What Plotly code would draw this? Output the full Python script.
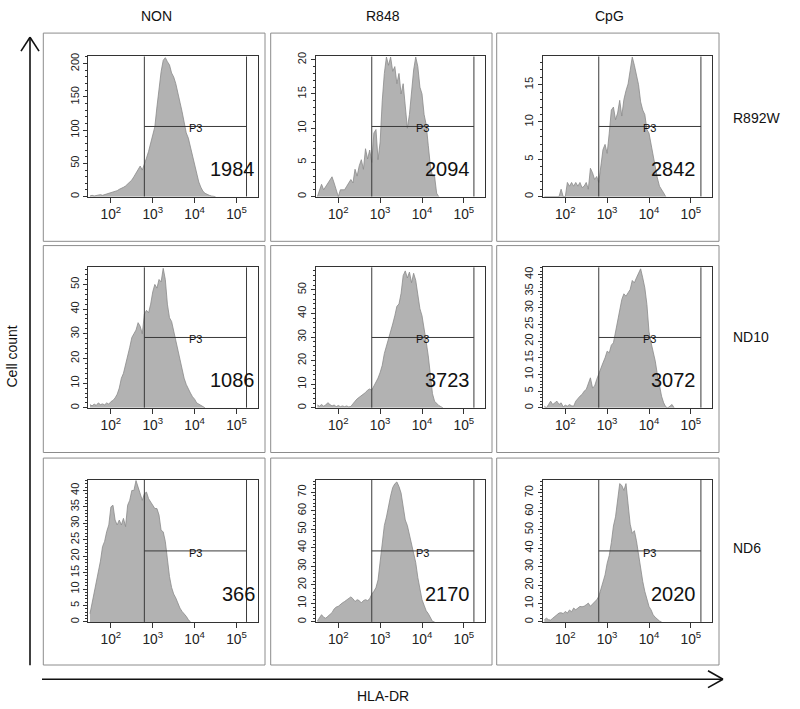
import math
import plotly.graph_objects as go

W, H = 800, 709

# ---------------- data ----------------
treatments = ["NON", "R848", "CpG"]
donors = ["R892W", "ND10", "ND6"]
x_title = "HLA-DR"
y_title = "Cell count"
gate_name = "P3"

# histogram bins (log10 of HLA-DR intensity)
bin_start_log10 = 1.50
bin_step_log10 = 0.05

r892w_non = [1, 2, 1, 2, 2, 3, 2, 3, 4, 4,
             6, 7, 8, 9, 11, 12, 14, 16, 19, 22,
             25, 30, 35, 42, 46, 40, 48, 58, 68, 80,
             92, 105, 135, 165, 188, 205, 209, 203, 198, 186,
             180, 170, 158, 142, 128, 112, 96, 88, 75, 58,
             45, 34, 22, 14, 8, 5, 3, 2, 1, 1, 0]
r892w_r848 = [0, 1, 1.8, 1, 1.5, 2, 2.5, 2.9, 2, 1,
              0, 1, 1, 1, 1.5, 2, 2.5, 2, 4, 3,
              4.5, 5.4, 4, 7, 5.5, 6.8, 5, 9.3, 9.8, 5.4,
              8, 14, 18, 20.4, 19.2, 20.4, 18.3, 19, 16.5, 18,
              15, 16.5, 13.5, 10, 12, 15, 18.5, 20.4, 19, 16,
              15, 12, 10.5, 7.5, 4.5, 3, 3, 0.5, 0]
r892w_cpg = [0, 0, 0, 0, 0, 0, 0, 0, 1, 0,
             0, 1.9, 1.4, 1.9, 1.4, 1.9, 1.4, 1.9, 1.2, 1.4,
             1.9, 1, 3.8, 3.2, 2.3, 2.7, 1.9, 4.5, 6.3, 7,
             5.8, 8.5, 11.6, 12, 10.3, 11.2, 12.9, 10.8, 13, 14.2,
             15.1, 16.9, 18.7, 17.6, 16.5, 15, 12.7, 11.6, 11, 9,
             8.5, 7, 5.5, 3.5, 2.5, 1.4, 1, 0.5, 0]
nd10_non = [1.3, 0.8, 1.5, 1, 2, 1.3, 1.6, 1.2, 2, 1.5,
            2.5, 3, 4, 5.5, 8, 12, 14, 17, 21, 24.5,
            28.5, 30, 31.5, 34.5, 33, 30, 38, 39.5, 38.5, 42,
            47, 50, 48.5, 52, 51, 56.5, 52, 42, 36.5, 35,
            31, 27.5, 24, 20, 15.5, 12, 9.5, 7.5, 6, 4.5,
            3.5, 2, 1.5, 1, 0.7, 0]
nd10_r848 = [1.2, 0.7, 1.4, 0.7, 1.2, 2.2, 1.4, 0.8, 1.2, 0.5,
             1, 0.5, 0.8, 0.5, 0.8, 0.4, 0.6, 1.5, 2.8, 3.8,
             4.5, 5, 5.8, 6.5, 7.5, 8, 7.5, 9, 10.5, 12.6,
             15, 18, 23, 26, 28.5, 32, 35.5, 39, 43, 44,
             48.5, 56, 58, 55, 57.5, 53, 57, 54, 47, 42,
             39, 34, 28, 22, 14, 6, 2.8, 1.8, 1, 0.5, 0]
nd10_cpg = [0.5, 0, 1, 2, 1, 1.5, 2, 1, 1.5, 0.3,
            0.8, 0.5, 1, 0.6, 0.5, 2, 2.8, 3.5, 4, 5,
            5.5, 7, 9, 6, 6.5, 8.5, 10.4, 12, 13.5, 15,
            17, 16.5, 18.8, 19.5, 22.8, 26, 29, 32.5, 34.2, 33.5,
            34.5, 35.5, 38.2, 37.5, 39, 40.5, 41.7, 39, 36, 31,
            22.8, 19.5, 17, 14, 10, 6.5, 3.5, 1.5, 0.3, 0, 0.5, 1, 0]
nd6_non = [2.5, 5.5, 8.8, 12, 14.5, 18.5, 22.9, 24.5, 27.5, 29.5,
           35, 35.5, 31, 29.5, 31, 29.5, 31.5, 29, 35.5, 37,
           40, 40, 43, 41, 39, 37, 39, 39.5, 37.5, 36.5,
           35.5, 34.5, 34.5, 32.5, 27.9, 27.4, 24.5, 18.5, 13.8, 10.5,
           8.5, 7.3, 5.7, 4.2, 3.2, 2.5, 1.7, 0.7, 0]
nd6_r848 = [0.5, 2, 3.9, 2.5, 2, 3, 4, 5, 7, 8,
            8.4, 9.5, 10.3, 11, 11.8, 13, 13.5, 12.5, 11, 12,
            11.5, 10.2, 11.5, 12, 11.5, 12.5, 15, 16.5, 18.5, 22.7,
            33.5, 42, 52, 56.6, 63, 68, 72.5, 74.5, 75.5, 73,
            69.5, 62, 55, 52, 47, 43, 37.5, 32, 24, 18.5,
            12, 9, 6, 4.5, 2, 0.3, 0]
nd6_cpg = [1.2, 2, 1.2, 1, 2, 3, 4, 4.8, 5, 4.5,
           5.7, 4.8, 6.5, 5.5, 7.5, 6.6, 7.5, 8.4, 8.2, 8.5,
           9.3, 10.2, 8.5, 9.8, 10.5, 12, 13.8, 18, 22.8, 25.5,
           31.8, 36, 43, 52, 57, 65, 75, 74, 71.3, 75,
           63, 53, 48, 49.5, 44, 36, 28, 22, 16.5, 12,
           8.4, 6.5, 3.8, 2.5, 1.2, 0.5, 0]

counts = [[r892w_non, r892w_r848, r892w_cpg],
          [nd10_non, nd10_r848, nd10_cpg],
          [nd6_non, nd6_r848, nd6_cpg]]

mfi = [[1984, 2094, 2842],
       [1086, 3723, 3072],
       [366, 2170, 2020]]

y_max = [[211, 20.5, 18.8],
         [57, 59.6, 42.2],
         [43.2, 76.6, 77]]
y_major = [[50, 5, 5], [10, 10, 5], [5, 10, 10]]
y_minor = [[10, 1, 1], [2, 2, 1], [1, 2, 2]]

gate_low = 630
gate_high = 1.74e5
x_log_range = [1.46, 5.51]

# minor tick positions on the log axis (2..9 x each decade)
x_minor_ticks = [m * 10 ** d for d in range(1, 6) for m in range(2, 10)
                 if x_log_range[0] <= math.log10(m * 10 ** d) <= x_log_range[1]]

# ---------------- layout constants (pixels) ----------------
COL_X0 = [88.3, 315.7, 542.7]
PLOT_W = 169.5
ROW_Y0 = [52.7, 265.0, 479.3]
ROW_H = [141.3, 141.7, 143.0]
BOX_X = [(43.3, 265.0), (270.7, 492.0), (496.7, 719.0)]
BOX_Y = [(29.3, 239.0), (243.3, 451.7), (457.3, 665.7)]
NUM_X = [0.994, 0.921, 0.915]

FONT = "Liberation Sans, Arial, sans-serif"
FILL = "#b2b2b2"
EDGE = "#8a8a8a"
FRAME = "#333333"


def fx(px):
    return px / W


def fy(py):
    return 1 - py / H


fig = go.Figure()
layout = {}
annotations = []
shapes = []

for r in range(3):
    for c in range(3):
        idx = r * 3 + c + 1
        sfx = "" if idx == 1 else str(idx)
        xa, ya = "x" + sfx, "y" + sfx
        cnt = counts[r][c]
        xs = [10 ** (bin_start_log10 + bin_step_log10 * i) for i in range(len(cnt))]
        fig.add_trace(go.Scatter(
            x=xs, y=cnt, mode="lines", fill="tozeroy",
            fillcolor=FILL, line=dict(color=EDGE, width=0.8),
            xaxis=xa, yaxis=ya, showlegend=False, hoverinfo="skip"))
        ym = y_max[r][c]
        fig.add_trace(go.Scatter(
            x=[gate_low, gate_low, None, gate_high, gate_high, None, gate_low, gate_high],
            y=[0, ym, None, 0, ym, None, ym / 2, ym / 2],
            mode="lines", line=dict(color="#3a3a3a", width=1),
            xaxis=xa, yaxis=ya, showlegend=False, hoverinfo="skip"))

        xdom = [fx(COL_X0[c]), fx(COL_X0[c] + PLOT_W)]
        layout["xaxis" + sfx] = dict(
            domain=xdom,
            anchor=ya, type="log", range=x_log_range, dtick=1,
            exponentformat="power", showgrid=False, zeroline=False,
            showline=True, mirror=True, linecolor=FRAME, linewidth=1,
            ticks="outside", ticklen=5, tickcolor=FRAME,
            tickfont=dict(family=FONT, size=11, color="#222"))
        # overlay axis carrying the minor ticks
        ov = str(idx + 9)
        layout["xaxis" + ov] = dict(
            domain=xdom, anchor=ya, overlaying=xa, side="bottom",
            type="log", range=x_log_range, tickmode="array", tickvals=x_minor_ticks,
            showticklabels=False, showgrid=False, zeroline=False, showline=False,
            ticks="outside", ticklen=3, tickcolor=FRAME)
        layout["yaxis" + sfx] = dict(
            domain=[fy(ROW_Y0[r] + ROW_H[r]), fy(ROW_Y0[r])],
            anchor=xa, range=[0, ym], dtick=y_major[r][c], tick0=0,
            showgrid=False, zeroline=False,
            showline=True, mirror=True, linecolor=FRAME, linewidth=1,
            ticks="outside", ticklen=4, tickcolor=FRAME, tickangle=-90,
            minor=dict(ticks="outside", ticklen=2, dtick=y_minor[r][c], tick0=0, tickcolor=FRAME),
            tickfont=dict(family=FONT, size=11, color="#222"))

        annotations.append(dict(
            text=gate_name, xref=xa + " domain", yref=ya + " domain",
            x=0.632, y=0.5, yshift=-2, showarrow=False,
            xanchor="center", yanchor="middle",
            font=dict(family=FONT, size=11, color="#111")))
        annotations.append(dict(
            text=str(mfi[r][c]), xref=xa + " domain", yref=ya + " domain",
            x=NUM_X[c], y=0.195, showarrow=False,
            xanchor="right", yanchor="middle",
            font=dict(family=FONT, size=20, color="#111")))

        bx0, bx1 = BOX_X[c]
        by0, by1 = BOX_Y[r]
        shapes.append(dict(type="rect", xref="paper", yref="paper",
                           x0=fx(bx0), x1=fx(bx1), y0=fy(by1), y1=fy(by0),
                           line=dict(color="#8c8c8c", width=1), layer="below"))

# column and row labels
col_cx = [156, 383, 609]
for c, t in enumerate(treatments):
    annotations.append(dict(text=t, xref="paper", yref="paper", x=fx(col_cx[c]), y=fy(12),
                            showarrow=False, xanchor="center", yanchor="middle",
                            font=dict(family=FONT, size=14, color="#111")))
row_cy = [115, 335, 548]
for r, t in enumerate(donors):
    annotations.append(dict(text=t, xref="paper", yref="paper", x=fx(731), y=fy(row_cy[r]),
                            showarrow=False, xanchor="left", yanchor="middle",
                            font=dict(family=FONT, size=14, color="#111")))

annotations.append(dict(text=y_title, xref="paper", yref="paper", x=fx(12), y=fy(355),
                        textangle=-90, showarrow=False, xanchor="center", yanchor="middle",
                        font=dict(family=FONT, size=14, color="#111")))
annotations.append(dict(text=x_title, xref="paper", yref="paper", x=fx(383), y=fy(697),
                        showarrow=False, xanchor="center", yanchor="middle",
                        font=dict(family=FONT, size=14, color="#111")))

# axis arrows
ARW = dict(color="#111", width=1.6)
for (x0, y0, x1, y1) in [(30, 666, 30, 33.5), (21, 47.5, 30, 33.5), (39, 47.5, 30, 33.5),
                         (42, 680, 723, 680), (708, 671.5, 723, 680), (708, 688.5, 723, 680)]:
    shapes.append(dict(type="line", xref="paper", yref="paper",
                       x0=fx(x0), y0=fy(y0), x1=fx(x1), y1=fy(y1), line=ARW))

fig.update_layout(
    width=W, height=H, margin=dict(l=0, r=0, t=0, b=0),
    paper_bgcolor="white", plot_bgcolor="white",
    annotations=annotations, shapes=shapes, showlegend=False,
    **layout)

fig.write_html("out.html", config={"displayModeBar": False},
               post_script="document.body.style.margin='0';document.body.style.overflow='hidden';")
